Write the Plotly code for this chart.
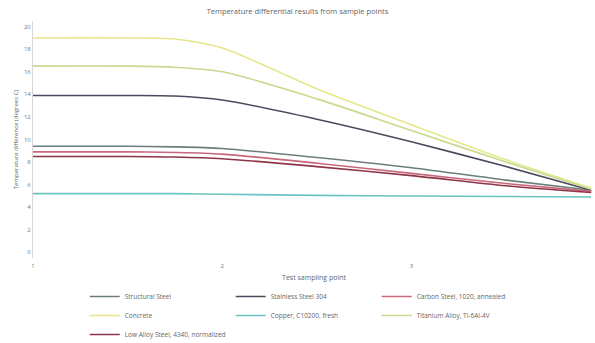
import plotly.graph_objects as go

# Sampling points along the test specimen
sample_points = [1, 1.5, 1.75, 2, 2.5, 3, 3.5, 3.95]

materials = [
    "Structural Steel",
    "Stainless Steel 304",
    "Carbon Steel, 1020, annealed",
    "Concrete",
    "Copper, C10200, fresh",
    "Titanium Alloy, Ti-6Al-4V",
    "Low Alloy Steel, 4340, normalized",
]

structural_steel = [9.4, 9.4, 9.35, 9.2, 8.4, 7.5, 6.4, 5.5]
stainless_steel = [13.9, 13.9, 13.85, 13.5, 11.8, 9.8, 7.6, 5.5]
carbon_steel = [8.9, 8.9, 8.85, 8.7, 7.9, 7.0, 6.1, 5.4]
concrete = [19.0, 19.0, 18.9, 18.1, 14.5, 11.3, 8.2, 5.7]
copper = [5.2, 5.2, 5.2, 5.15, 5.05, 5.0, 4.95, 4.9]
titanium = [16.5, 16.5, 16.4, 16.0, 13.6, 10.8, 8.0, 5.6]
low_alloy_steel = [8.5, 8.5, 8.45, 8.3, 7.6, 6.8, 5.9, 5.3]

series = [structural_steel, stainless_steel, carbon_steel, concrete,
          copper, titanium, low_alloy_steel]
colors = ["#6b7f78", "#4b4b5e", "#c7687a", "#e6e68c",
          "#6cc3c3", "#c9d98f", "#8e3448"]

fig = go.Figure()
for name, vals, col in zip(materials, series, colors):
    fig.add_trace(go.Scatter(
        x=sample_points, y=vals, name=name, mode="lines",
        line=dict(color=col, width=1.6, shape="spline", smoothing=0.8),
    ))

fig.update_layout(
    width=595, height=343,
    margin=dict(l=33, r=0, t=21, b=85, autoexpand=False),
    paper_bgcolor="white", plot_bgcolor="white",
    font=dict(family="Open Sans", size=7, color="#777777"),
    title=dict(text="Temperature differential results from sample points",
               x=0.5, xanchor="center", y=0.975, yanchor="top",
               font=dict(size=7.5, color="#666666")),
    xaxis=dict(range=[1, 3.97], tickvals=[1, 2, 3], showgrid=False,
               zeroline=False, showline=False, ticks="",
               ticklabelstandoff=3,
               title=dict(text="Test sampling point", standoff=7,
                          font=dict(size=7, color="#666666")),
               tickfont=dict(size=6, color="#777777")),
    yaxis=dict(range=[-0.5, 20.5], tickvals=list(range(0, 21, 2)),
               showgrid=False, zeroline=False, showline=True,
               linecolor="#d8d8d8", linewidth=1, ticks="",
               title=dict(text="Temperature difference (degrees C)", standoff=4,
                          font=dict(size=6, color="#666666")),
               tickfont=dict(size=6, color="#777777")),
    legend=dict(orientation="h", x=0.092, xanchor="left",
                yref="container", y=0.178, yanchor="top",
                entrywidth=101, entrywidthmode="pixels", itemwidth=30,
                font=dict(size=6.5, color="#666666"), tracegroupgap=0),
    showlegend=True,
)

fig.write_html("out.html")
